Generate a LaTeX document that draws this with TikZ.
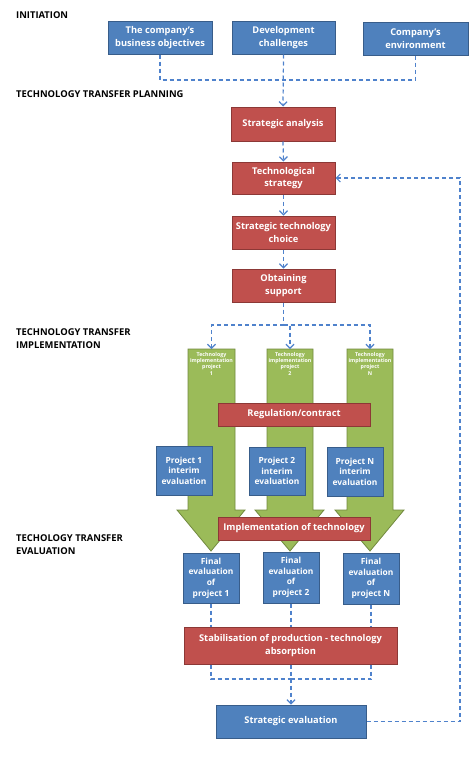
\documentclass[tikz,border=0pt]{standalone}
\usepackage{fontspec}
\setmainfont{Open Sans}
\usetikzlibrary{arrows.meta}
\definecolor{bfill}{HTML}{4F81BD}
\definecolor{bdraw}{HTML}{385D8A}
\definecolor{rfill}{HTML}{C0504D}
\definecolor{rdraw}{HTML}{8C3836}
\definecolor{gfill}{HTML}{9BBB59}
\definecolor{gdraw}{HTML}{71893F}
\definecolor{dline}{HTML}{4F82CC}
\tikzset{
  box/.style={draw, line width=1pt, inner sep=0pt, align=center, text=white,
    font=\fontsize{9.3}{12.4}\selectfont\bfseries},
  bluebox/.style={box, fill=bfill, draw=bdraw},
  redbox/.style={box, fill=rfill, draw=rdraw},
  smallbox/.style={font=\fontsize{8.4}{10.6}\selectfont\bfseries},
  head/.style={anchor=base west, inner sep=0pt, align=left,
    font=\fontsize{9.4}{12.8}\selectfont\bfseries},
  garrow/.style={fill=gfill, draw=gdraw, line width=0.8pt},
  glabel/.style={anchor=north, inner sep=0pt, align=center, text=white,
    font=\fontsize{5.3}{6.3}\selectfont\bfseries},
  dl/.style={draw=dline, line width=1.2pt, dash pattern=on 4pt off 3pt},
  dla/.style={dl, -{Straight Barb[length=4pt,width=8pt]}}
}
\begin{document}
\begin{tikzpicture}[x=1pt,y=-1pt]
\useasboundingbox (0,0) rectangle (473,763);
% headings
\node[head] (h1) at (16,18.7) {INITIATION};
\node[head] (h2) at (16,97) {TECHNOLOGY TRANSFER PLANNING};
\node[head] (h3) at (16,348) {TECHNOLOGY TRANSFER\\IMPLEMENTATION};
\node[head] (h4) at (16,554.3) {TECHOLOGY TRANSFER\\EVALUATION};
% initiation boxes
\node[bluebox, minimum width=104, minimum height=33] (b1) at (160,37.5) {The company's\\business objectives};
\node[bluebox, minimum width=103, minimum height=33] (b2) at (283.5,37.5) {Development\\challenges};
\node[bluebox, minimum width=105, minimum height=33] (b3) at (415.5,38.5) {Company's\\environment};
% planning
\node[redbox, minimum width=104, minimum height=34] (sa) at (283,124) {Strategic analysis};
\node[redbox, minimum width=103, minimum height=32] (ts) at (283.5,178) {Technological\\strategy};
\node[redbox, minimum width=103, minimum height=33] (sc) at (283.5,232.5) {Strategic technology\\choice};
\node[redbox, minimum width=103, minimum height=33] (os) at (283.5,285.5) {Obtaining\\support};
% green arrows
\draw[garrow] (188,349) -- (235,349) -- (235,510) -- (245,510) -- (211,551) -- (177,510) -- (188,510) -- cycle;
\draw[garrow] (267,349) -- (313,349) -- (313,510) -- (324,510) -- (290,551) -- (255,510) -- (267,510) -- cycle;
\draw[garrow] (347,349) -- (393,349) -- (393,510) -- (404,510) -- (370,551) -- (335,510) -- (347,510) -- cycle;
\coordinate (g1) at (211.5,349);
\coordinate (g2) at (290,349);
\coordinate (g3) at (370,349);
\node[glabel] (gl1) at (211.5,352) {Technology\\implementation\\project\\1};
\node[glabel] (gl2) at (290,352) {Technology\\implementation\\project\\2};
\node[glabel] (gl3) at (370,352) {Technology\\implementation\\project\\N};
% implementation
\node[redbox, minimum width=152, minimum height=23] (reg) at (294,414.5) {Regulation/contract};
\node[bluebox, smallbox, minimum width=56, minimum height=49] (i1) at (184,470.5) {Project 1\\interim\\evaluation};
\node[bluebox, smallbox, minimum width=56, minimum height=48] (i2) at (277,471) {Project 2\\interim\\evaluation};
\node[bluebox, smallbox, minimum width=56, minimum height=49] (i3) at (355,471.5) {Project N\\interim\\evaluation};
\node[redbox, minimum width=152, minimum height=23] (imp) at (294,528.5) {Implementation of technology};
% evaluation
\node[bluebox, smallbox, minimum width=56, minimum height=50] (f1) at (211,578) {Final\\evaluation\\of\\project 1};
\node[bluebox, smallbox, minimum width=56, minimum height=51] (f2) at (291,577.5) {Final\\evaluation\\of\\project 2};
\node[bluebox, smallbox, minimum width=56, minimum height=51] (f3) at (371,578.5) {Final\\evaluation\\of\\project N};
\node[redbox, minimum width=213, minimum height=37] (st) at (290.5,645.5) {Stabilisation of production - technology\\absorption};
\node[bluebox, minimum width=150, minimum height=33] (se) at (291,721.5) {Strategic evaluation};
% connectors top
\coordinate (j1) at (283.5,80);
\draw[dl] (b1.south) |- (j1);
\draw[dl] (b3.south) |- (j1);
\draw[dla] (b2.south) -- (sa.north);
\draw[dla] (sa.south) -- (ts.north);
\draw[dla] (ts.south) -- (sc.north);
\draw[dla] (sc.south) -- (os.north);
% connectors to projects
\coordinate (j2) at (283.5,325);
\draw[dl] (os.south) -- (j2);
\draw[dla] (j2) -| (g1);
\draw[dla] (j2) -| (g2);
\draw[dla] (j2) -| (g3);
% final to stabilisation
\draw[dl] (f1.south) -- (f1.south |- st.north);
\draw[dl] (f2.south) -- (f2.south |- st.north);
\draw[dl] (f3.south) -- (f3.south |- st.north);
\coordinate (j3) at (291,679);
\draw[dl] (st.south -| f1.south) |- (j3);
\draw[dl] (st.south -| f3.south) |- (j3);
\draw[dla] (st.south -| se.north) -- (se.north);
% feedback
\coordinate (fb) at (460,178);
\draw[dla] (se.east) -| (fb) -- (ts.east);
\end{tikzpicture}
\end{document}
